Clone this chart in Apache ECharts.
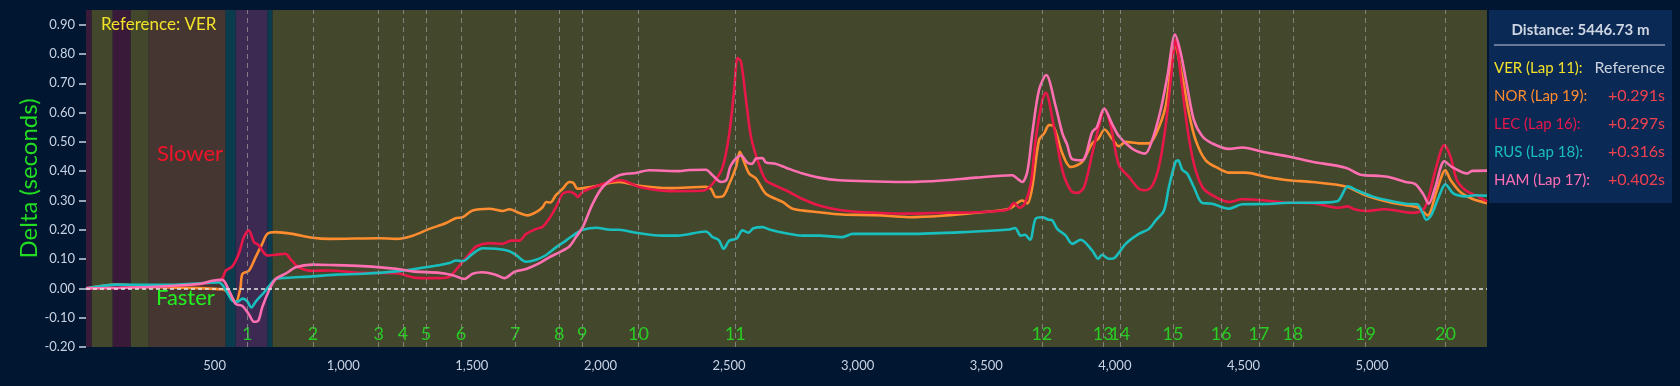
<!DOCTYPE html>
<html>
<head>
<meta charset="utf-8">
<script src="https://cdn.jsdelivr.net/npm/echarts@6/dist/echarts.min.js"></script>
<style>
  html, body { margin:0; padding:0; background:#011630; }
  #chart { width:1680px; height:386px; }
</style>
</head>
<body>
<div id="chart"></div>
<script>
// ---------- DATA ----------
const lapDistance = 5446.73;
const xTickValues = [500,1000,1500,2000,2500,3000,3500,4000,4500,5000];
const yTickValues = [-0.2,-0.1,0,0.1,0.2,0.3,0.4,0.5,0.6,0.7,0.8,0.9];

const cornerNames = ['1','2','3','4','5','6','7','8','9','10','11','12','13','14','15','16','17','18','19','20'];
const cornerDist  = [627,882,1138,1232,1322,1458,1669,1840,1929,2148,2524,3716,3955,4019,4226,4413,4560,4692,4974,5285];

const bandStart = [0,22,104,174,244,543,582,706,725];
const bandEnd   = [22,104,174,244,543,582,706,725,5446.73];
const bandKind  = ['maroon','olive','maroon','olive','brown','teal','purple','teal','olive'];

const drivers = ['VER','NOR','LEC','RUS','HAM'];
const laps    = [11,19,16,18,17];
const gaps    = [null,0.291,0.297,0.316,0.402];

const norData = [[0,0],[120,0.013],[250,0.005],[530,-0.003],[560,-0.02],[582,-0.048],[600,0.0],[608,0.049],[633,0.06],[659,0.106],[685,0.152],[705,0.186],[737,0.192],[802,0.186],[880,0.173],[947,0.169],[1141,0.171],[1206,0.169],[1270,0.18],[1335,0.203],[1400,0.223],[1439,0.24],[1465,0.243],[1503,0.266],[1568,0.272],[1620,0.264],[1646,0.27],[1685,0.257],[1717,0.249],[1750,0.26],[1775,0.277],[1789,0.295],[1805,0.293],[1827,0.318],[1853,0.34],[1879,0.363],[1895,0.36],[1911,0.34],[1957,0.345],[2073,0.363],[2151,0.35],[2268,0.342],[2410,0.347],[2430,0.34],[2449,0.312],[2475,0.314],[2501,0.357],[2527,0.414],[2542,0.466],[2555,0.44],[2578,0.392],[2605,0.375],[2643,0.323],[2708,0.295],[2747,0.272],[2850,0.26],[2941,0.252],[3071,0.25],[3200,0.243],[3329,0.248],[3459,0.258],[3589,0.272],[3640,0.3],[3660,0.29],[3679,0.346],[3705,0.506],[3725,0.529],[3744,0.557],[3760,0.555],[3796,0.46],[3828,0.414],[3873,0.432],[3912,0.495],[3935,0.51],[3960,0.542],[3990,0.51],[4016,0.485],[4042,0.5],[4093,0.495],[4132,0.495],[4159,0.525],[4197,0.62],[4234,0.826],[4262,0.723],[4288,0.597],[4314,0.506],[4353,0.437],[4404,0.409],[4443,0.395],[4508,0.395],[4586,0.381],[4676,0.369],[4767,0.363],[4897,0.348],[4974,0.318],[5065,0.295],[5130,0.284],[5181,0.275],[5216,0.249],[5250,0.33],[5285,0.403],[5305,0.37],[5343,0.329],[5389,0.306],[5446.73,0.291]];

const lecData = [[0,0],[250,0.005],[440,0.015],[491,0.02],[530,0.035],[543,0.06],[569,0.075],[594,0.118],[614,0.175],[633,0.198],[653,0.158],[670,0.148],[705,0.112],[737,0.115],[776,0.118],[795,0.1],[827,0.072],[880,0.06],[947,0.061],[1076,0.053],[1206,0.052],[1284,0.036],[1374,0.035],[1413,0.04],[1452,0.078],[1491,0.118],[1517,0.143],[1568,0.154],[1620,0.152],[1653,0.163],[1685,0.163],[1711,0.186],[1750,0.203],[1775,0.21],[1801,0.238],[1827,0.277],[1853,0.323],[1879,0.33],[1900,0.323],[1911,0.312],[1931,0.329],[1957,0.34],[2022,0.36],[2073,0.369],[2100,0.365],[2151,0.346],[2268,0.332],[2397,0.333],[2436,0.357],[2475,0.414],[2501,0.529],[2520,0.677],[2533,0.786],[2546,0.775],[2566,0.643],[2585,0.518],[2611,0.437],[2643,0.369],[2682,0.35],[2734,0.329],[2786,0.305],[2850,0.283],[2941,0.266],[3071,0.258],[3200,0.255],[3329,0.258],[3459,0.26],[3582,0.268],[3608,0.291],[3630,0.275],[3650,0.29],[3673,0.357],[3692,0.508],[3718,0.643],[3731,0.668],[3763,0.552],[3796,0.403],[3828,0.335],[3854,0.326],[3880,0.345],[3912,0.46],[3940,0.56],[3960,0.614],[3985,0.55],[4016,0.42],[4055,0.38],[4093,0.34],[4120,0.335],[4145,0.35],[4171,0.414],[4197,0.552],[4223,0.759],[4236,0.848],[4256,0.725],[4281,0.552],[4307,0.426],[4340,0.346],[4378,0.318],[4443,0.295],[4495,0.304],[4586,0.3],[4676,0.292],[4767,0.291],[4871,0.275],[4906,0.28],[4930,0.27],[4974,0.264],[5050,0.27],[5155,0.258],[5200,0.27],[5220,0.312],[5246,0.403],[5281,0.489],[5305,0.449],[5330,0.369],[5363,0.335],[5402,0.318],[5446.73,0.297]];

const rusData = [[0,0],[120,0.013],[300,0.012],[517,0.02],[543,-0.005],[569,-0.042],[590,-0.045],[608,-0.035],[625,-0.042],[643,-0.065],[660,-0.045],[692,-0.014],[718,0.015],[737,0.032],[776,0.036],[880,0.041],[970,0.047],[1076,0.05],[1206,0.058],[1335,0.074],[1413,0.087],[1439,0.095],[1465,0.093],[1503,0.118],[1542,0.137],[1594,0.135],[1646,0.127],[1670,0.115],[1711,0.091],[1750,0.098],[1789,0.114],[1827,0.14],[1866,0.163],[1905,0.188],[1931,0.2],[1983,0.207],[2040,0.2],[2073,0.2],[2138,0.19],[2242,0.18],[2300,0.18],[2410,0.194],[2436,0.175],[2460,0.165],[2479,0.135],[2501,0.163],[2530,0.17],[2552,0.198],[2575,0.19],[2595,0.205],[2630,0.209],[2660,0.2],[2721,0.188],[2786,0.18],[2850,0.18],[2941,0.175],[2980,0.186],[3200,0.186],[3459,0.194],[3589,0.201],[3612,0.206],[3634,0.18],[3650,0.183],[3670,0.166],[3692,0.238],[3718,0.243],[3740,0.235],[3757,0.232],[3776,0.203],[3809,0.18],[3834,0.152],[3867,0.166],[3912,0.129],[3935,0.101],[3950,0.115],[3977,0.101],[4000,0.105],[4042,0.152],[4093,0.186],[4132,0.203],[4159,0.232],[4191,0.266],[4210,0.346],[4236,0.432],[4246,0.437],[4262,0.405],[4281,0.392],[4307,0.346],[4340,0.291],[4378,0.289],[4443,0.272],[4495,0.287],[4586,0.288],[4676,0.292],[4767,0.292],[4864,0.297],[4906,0.348],[4940,0.335],[5000,0.314],[5065,0.3],[5130,0.289],[5175,0.287],[5195,0.26],[5211,0.234],[5230,0.25],[5259,0.312],[5285,0.355],[5317,0.323],[5363,0.314],[5402,0.318],[5446.73,0.316]];

const hamData = [[0,0],[250,0.005],[440,0.015],[491,0.026],[530,0.029],[556,-0.008],[582,-0.053],[608,-0.06],[633,-0.088],[653,-0.114],[670,-0.11],[685,-0.065],[711,-0.008],[737,0.032],[776,0.05],[815,0.072],[880,0.081],[947,0.08],[1076,0.076],[1206,0.067],[1270,0.058],[1374,0.053],[1426,0.045],[1471,0.032],[1503,0.05],[1542,0.055],[1594,0.046],[1627,0.035],[1666,0.057],[1711,0.066],[1763,0.086],[1801,0.106],[1840,0.123],[1879,0.143],[1905,0.175],[1931,0.209],[1970,0.289],[2009,0.346],[2073,0.386],[2138,0.394],[2190,0.403],[2306,0.4],[2345,0.404],[2410,0.405],[2436,0.386],[2469,0.363],[2490,0.37],[2507,0.42],[2546,0.454],[2572,0.429],[2590,0.425],[2605,0.443],[2630,0.445],[2643,0.43],[2680,0.425],[2721,0.412],[2786,0.392],[2850,0.378],[2928,0.369],[3071,0.365],[3200,0.363],[3329,0.368],[3459,0.378],[3601,0.386],[3620,0.375],[3640,0.363],[3660,0.4],[3679,0.529],[3705,0.677],[3733,0.728],[3770,0.62],[3796,0.529],[3815,0.489],[3834,0.441],[3873,0.437],[3912,0.534],[3930,0.55],[3958,0.614],[3990,0.56],[4016,0.519],[4067,0.477],[4117,0.46],[4145,0.506],[4178,0.609],[4204,0.723],[4234,0.866],[4256,0.803],[4281,0.689],[4307,0.575],[4340,0.519],[4378,0.495],[4443,0.476],[4495,0.481],[4586,0.464],[4676,0.45],[4767,0.432],[4897,0.412],[4955,0.388],[5026,0.384],[5065,0.38],[5130,0.363],[5168,0.356],[5200,0.32],[5220,0.289],[5246,0.346],[5281,0.434],[5311,0.414],[5369,0.392],[5389,0.401],[5446.73,0.402]];

// ---------- STYLE ----------
const FONT = 'Lato';
const driverColors = { VER:'#f2e22a', NOR:'#ff8c2e', LEC:'#e8174a', RUS:'#19bfbf', HAM:'#ff6fb2' };
const bandColors = { olive:'#43472b', maroon:'#3a1a39', brown:'#463631', teal:'#0b3c4e', purple:'#3d2a53' };
const axisTextColor = '#c9d3e4';

const chart = echarts.init(document.getElementById('chart'), null, { renderer: 'canvas' });

const bandAreas = bandStart.map((s, i) => [
  { xAxis: s, itemStyle: { color: bandColors[bandKind[i]], opacity: 1 } },
  { xAxis: bandEnd[i] }
]);

const markLines = cornerDist.map(d => ({ xAxis: d }));
markLines.push({ yAxis: 0, lineStyle: { color: '#e8e8e8', type: [4, 3], width: 1.5, opacity: 1 } });

function lineSeries(name, data) {
  return {
    name, type: 'line', data, showSymbol: false, smooth: 0.3, z: 3,
    lineStyle: { color: driverColors[name], width: 2.6 },
    itemStyle: { color: driverColors[name] },
    silent: true
  };
}

// side panel
const px = 1489, py = 10, pw = 183, ph = 193;
const panel = [
  { type: 'rect', shape: { x: px, y: py, width: pw, height: ph }, style: { fill: '#0b2955' }, z: 10 },
  { type: 'text', x: px + pw / 2, y: 30, z: 11,
    style: { text: 'Distance: ' + lapDistance.toFixed(2) + ' m', fill: '#cfd6e3', font: 'bold 15px ' + FONT, textAlign: 'center', textVerticalAlign: 'middle' } },
  { type: 'line', shape: { x1: 1494, y1: 45, x2: 1665, y2: 45 }, style: { stroke: '#c2cad8', lineWidth: 1 }, z: 11 }
];
const rowY = [68, 96, 124, 152, 180];
drivers.forEach((d, i) => {
  panel.push({ type: 'text', x: 1494, y: rowY[i], z: 11,
    style: { text: d + ' (Lap ' + laps[i] + '):', fill: driverColors[d], font: '15px ' + FONT, textAlign: 'left', textVerticalAlign: 'middle' } });
  panel.push({ type: 'text', x: 1665, y: rowY[i], z: 11,
    style: { text: gaps[i] === null ? 'Reference' : '+' + gaps[i].toFixed(3) + 's',
      fill: gaps[i] === null ? '#c9d0de' : '#f0414f', font: '16px ' + FONT, textAlign: 'right', textVerticalAlign: 'middle' } });
});
// annotations
panel.push({ type: 'text', x: 101, y: 25, z: 11,
  style: { text: 'Reference: VER', fill: '#f2e22a', font: '17px ' + FONT, textAlign: 'left', textVerticalAlign: 'middle' } });
panel.push({ type: 'text', x: 157, y: 154, z: 11,
  style: { text: 'Slower', fill: '#f0142a', font: '22px ' + FONT, textAlign: 'left', textVerticalAlign: 'middle' } });
panel.push({ type: 'text', x: 156, y: 298, z: 11,
  style: { text: 'Faster', fill: '#22ee22', font: '22px ' + FONT, textAlign: 'left', textVerticalAlign: 'middle' } });

const option = {
  backgroundColor: '#011630',
  animation: false,
  textStyle: { fontFamily: FONT },
  grid: { left: 86, right: 193, top: 10, bottom: 39, containLabel: false },
  xAxis: {
    type: 'value', min: 0, max: lapDistance,
    axisLine: { show: false },
    axisTick: { show: true, length: 7, lineStyle: { color: '#c9d3e4', width: 1.5 }, customValues: xTickValues },
    axisLabel: { color: axisTextColor, fontSize: 13, margin: 12, customValues: xTickValues,
      formatter: v => v.toLocaleString('en-US') },
    splitLine: { show: false }
  },
  yAxis: {
    type: 'value', min: -0.2, max: 0.95,
    name: 'Delta (seconds)', nameLocation: 'middle', nameGap: 45, nameMoveOverlap: false,
    nameTextStyle: { color: '#22dd22', fontSize: 24, fontFamily: FONT },
    axisLine: { show: false },
    axisTick: { show: true, length: 7, lineStyle: { color: '#c9d3e4', width: 1.5 }, customValues: yTickValues },
    axisLabel: { color: axisTextColor, fontSize: 13, margin: 11, customValues: yTickValues,
      formatter: v => v.toFixed(2) },
    splitLine: { show: false }
  },
  graphic: panel,
  series: [
    {
      name: 'bands', type: 'line', data: [[0, 0]], showSymbol: false, z: 1,
      lineStyle: { opacity: 0 }, silent: true,
      markArea: { silent: true, data: bandAreas },
      markLine: {
        silent: true, symbol: 'none', label: { show: false },
        lineStyle: { color: 'rgba(150,150,150,0.75)', type: [5, 4], width: 1 },
        data: markLines
      }
    },
    lineSeries('NOR', norData),
    lineSeries('LEC', lecData),
    lineSeries('RUS', rusData),
    lineSeries('HAM', hamData),
    {
      name: 'corners', type: 'scatter', symbolSize: 0, z: 4, silent: true,
      data: cornerDist.map(d => [d, -0.155]),
      label: { show: true, position: 'inside', color: '#22ee22', fontSize: 18, fontFamily: FONT,
        formatter: p => cornerNames[p.dataIndex] }
    }
  ]
};
chart.setOption(option);
</script>
</body>
</html>
